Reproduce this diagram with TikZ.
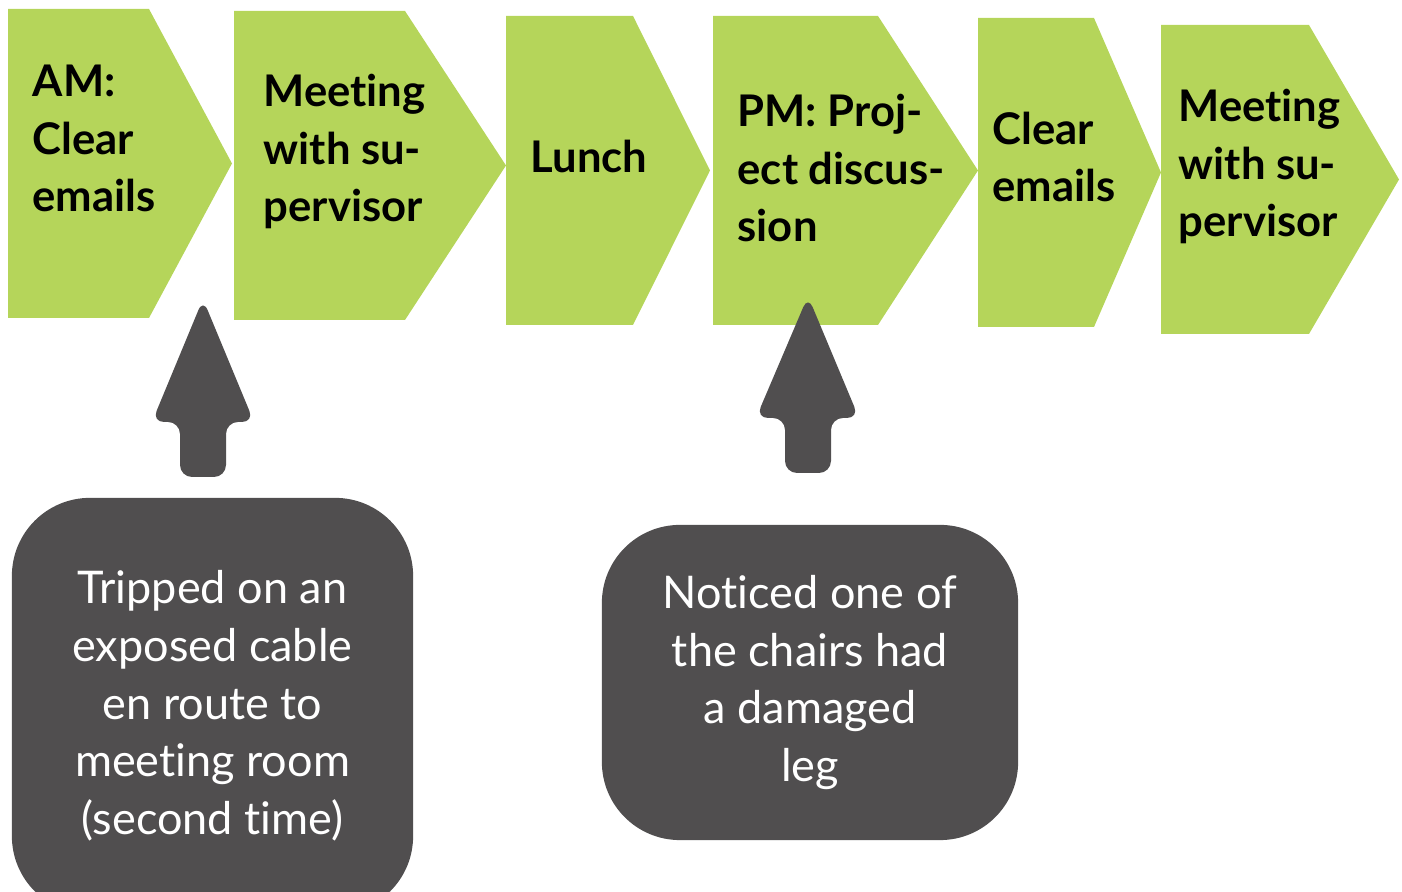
\documentclass[tikz,border=0pt]{standalone}
\usepackage{fontspec}
\setmainfont[Ligatures=NoCommon]{Lato}
\usepackage{xcolor}
\usepackage{tikz}
\definecolor{leaf}{HTML}{B5D55A}
\definecolor{slate}{HTML}{504E4F}
\tikzset{
  chevron/.style={fill=leaf, draw=none},
  steptext/.style={anchor=base west, inner sep=0pt, align=left, text=black,
    font=\fontsize{12.4}{16.4}\selectfont\bfseries},
  uparrow/.style={fill=slate, draw=none, rounded corners=0.12cm},
  notebox/.style={fill=slate, rounded corners=0.78cm, text=white, align=center,
    font=\fontsize{12.8}{16.4}\selectfont},
}

\begin{document}
\begin{tikzpicture}[x=0.01cm, y=-0.01cm]
\useasboundingbox (0,0) rectangle (1402,892);

% the day, step by step
\fill[chevron] (8,9) -- (149,9) -- (232,163.5) -- (149,318) -- (8,318) -- cycle;
\fill[chevron] (234,11) -- (405,11) -- (506,165.5) -- (405,320) -- (234,320) -- cycle;
\fill[chevron] (506,16) -- (633,16) -- (710,170.5) -- (633,325) -- (506,325) -- cycle;
\fill[chevron] (713,16) -- (878,16) -- (978,170.5) -- (878,325) -- (713,325) -- cycle;
\fill[chevron] (978,18) -- (1094,18) -- (1161,172.5) -- (1094,327) -- (978,327) -- cycle;
\fill[chevron] (1161,25) -- (1309,25) -- (1399,179.5) -- (1309,334) -- (1161,334) -- cycle;

% base anchor sits on the last line
\node[steptext] (am) at (32,212) {AM:\\Clear\\emails};
\node[steptext] (meet1) at (263,222) {Meeting\\with su-\\pervisor};
\node[steptext] (lunch) at (530,173) {Lunch};
\node[steptext] (pm) at (737,242) {PM: Proj-\\ect discus-\\sion};
\node[steptext] (clear) at (992,202) {Clear\\emails};
\node[steptext] (meet2) at (1178,237) {Meeting\\with su-\\pervisor};

% incidents
\fill[uparrow] (203,299) -- (254,422) -- (226,422) -- (226,477) -- (180,477)
  -- (180,422) -- (152,422) -- cycle;
\fill[uparrow] (808,296) -- (859,418) -- (831,418) -- (831,473) -- (785,473)
  -- (785,418) -- (756,418) -- cycle;

\node[notebox, minimum width=4.01cm, minimum height=4.16cm] (trip) at (212.5,706)
  {Tripped on an\\exposed cable\\en route to\\meeting room\\(second time)};
\node[notebox, minimum width=4.16cm, minimum height=3.15cm] (chair) at (810,682.5)
  {Noticed one of\\the chairs had\\a damaged\\leg};
\end{tikzpicture}
\end{document}
